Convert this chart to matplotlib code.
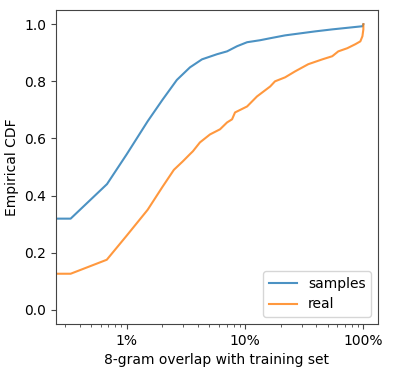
import numpy as np
import matplotlib
matplotlib.use("Agg")
import matplotlib.pyplot as plt
from matplotlib.ticker import PercentFormatter

# overlap values (fraction of 8-grams found in training set) and ECDF levels
samples_x = [0.0, 0.00335, 0.0068, 0.0100, 0.0150, 0.0200, 0.0265, 0.0342,
             0.0432, 0.0579, 0.0704, 0.0855, 0.104, 0.134, 0.163, 0.218,
             0.392, 0.546, 0.982, 1.0]
samples_y = [0.319, 0.319, 0.440, 0.545, 0.660, 0.735, 0.805, 0.849,
             0.877, 0.895, 0.905, 0.923, 0.937, 0.944, 0.951, 0.961,
             0.975, 0.982, 0.993, 1.0]

real_x = [0.0, 0.00335, 0.00677, 0.0100, 0.0150, 0.0200, 0.0250, 0.0298,
          0.0342, 0.0362, 0.0415, 0.0505, 0.0614, 0.0704, 0.0776, 0.0822,
          0.104, 0.126, 0.163, 0.179, 0.218, 0.265, 0.342, 0.450, 0.546,
          0.614, 0.731, 0.855, 0.943, 0.982, 1.0, 1.0]
real_y = [0.126, 0.126, 0.175, 0.260, 0.350, 0.430, 0.490, 0.520,
          0.545, 0.555, 0.586, 0.614, 0.632, 0.656, 0.667, 0.691,
          0.712, 0.747, 0.782, 0.800, 0.814, 0.835, 0.860, 0.877, 0.888,
          0.905, 0.916, 0.930, 0.940, 0.958, 0.982, 1.0]

plt.rcParams['font.size'] = 10

fig, ax = plt.subplots(figsize=(4.0, 3.69), dpi=100)
fig.subplots_adjust(left=0.14, right=0.945, top=0.973, bottom=0.122)

ax.plot(samples_x, samples_y, color='C0', alpha=0.8, lw=1.5, label='samples')
ax.plot(real_x, real_y, color='C1', alpha=0.8, lw=1.5, label='real')

ax.set_xscale('log')
ax.set_ylim(-0.05, 1.05)
ax.xaxis.set_major_formatter(PercentFormatter(xmax=1, decimals=0))
ax.set_xlabel('8-gram overlap with training set')
ax.set_ylabel('Empirical CDF')
ax.legend(loc='lower right')

for s in ax.spines.values():
    s.set_color('#444444')
ax.tick_params(which='both', color='#444444')

fig.savefig('out.png')
